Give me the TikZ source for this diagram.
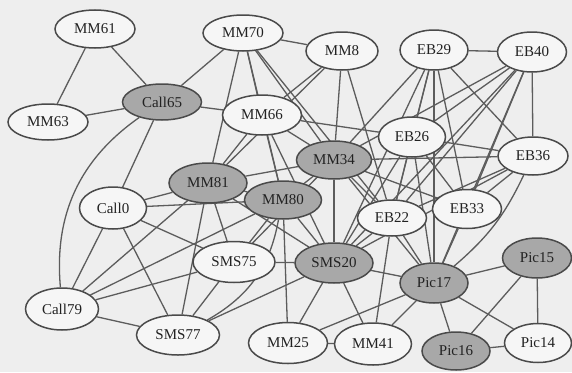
\documentclass[tikz,border=0pt]{standalone}
\usepackage{fontspec}
\setmainfont{Liberation Serif}
\usetikzlibrary{shapes.geometric,backgrounds}
\definecolor{bgc}{HTML}{EEEEEE}
\definecolor{wfill}{HTML}{F6F6F6}
\definecolor{gfill}{HTML}{A8A8A8}
\definecolor{bord}{HTML}{4A4A4A}
\definecolor{edgec}{HTML}{5C5C5C}
\definecolor{txtc}{HTML}{222222}
\tikzset{
  nd/.style={ellipse, draw=bord, line width=1.5pt, inner sep=0pt, text=txtc,
    font=\fontsize{15}{15}\selectfont},
  wn/.style={nd, fill=wfill},
  gn/.style={nd, fill=gfill},
  ed/.style={draw=edgec, line width=1.3pt},
  thick ed/.style={draw=edgec, line width=2.5pt}
}
\begin{document}
\begin{tikzpicture}[x=1pt,y=-1pt]
\useasboundingbox (0,0) rectangle (572,372);
% nodes
\node[wn, minimum width=80pt, minimum height=38pt] (MM61) at (95,29) {MM61};
\node[wn, minimum width=80pt, minimum height=36pt] (MM70) at (243,33) {MM70};
\node[wn, minimum width=72pt, minimum height=38pt] (MM8) at (342,51) {MM8};
\node[wn, minimum width=68pt, minimum height=40pt] (EB29) at (434,50) {EB29};
\node[wn, minimum width=69pt, minimum height=40pt] (EB40) at (532,52) {EB40};
\node[gn, minimum width=79pt, minimum height=36pt] (Call65) at (162,102) {Call65};
\node[wn, minimum width=80pt, minimum height=36pt] (MM63) at (48,122) {MM63};
\node[wn, minimum width=79pt, minimum height=40pt] (MM66) at (262,115) {MM66};
\node[wn, minimum width=67pt, minimum height=40pt] (EB26) at (412,137) {EB26};
\node[wn, minimum width=70pt, minimum height=38pt] (EB36) at (533,156) {EB36};
\node[gn, minimum width=75pt, minimum height=38pt] (MM34) at (334,160) {MM34};
\node[gn, minimum width=78pt, minimum height=40pt] (MM81) at (208,183) {MM81};
\node[gn, minimum width=77pt, minimum height=38pt] (MM80) at (283,200) {MM80};
\node[wn, minimum width=67pt, minimum height=42pt] (Call0) at (113,208) {Call0};
\node[wn, minimum width=69pt, minimum height=36pt] (EB22) at (392,218) {EB22};
\node[wn, minimum width=69pt, minimum height=39pt] (EB33) at (467,209) {EB33};
\node[wn, minimum width=82pt, minimum height=41pt] (SMS75) at (234,262) {SMS75};
\node[gn, minimum width=78pt, minimum height=40pt] (SMS20) at (334,263) {SMS20};
\node[gn, minimum width=68pt, minimum height=40pt] (Pic17) at (434,283) {Pic17};
\node[gn, minimum width=69pt, minimum height=40pt] (Pic15) at (537,258) {Pic15};
\node[wn, minimum width=73pt, minimum height=42pt] (Call79) at (62,309) {Call79};
\node[wn, minimum width=83pt, minimum height=40pt] (SMS77) at (178,335) {SMS77};
\node[wn, minimum width=79pt, minimum height=41pt] (MM25) at (288,343) {MM25};
\node[wn, minimum width=77pt, minimum height=42pt] (MM41) at (373,344) {MM41};
\node[gn, minimum width=68pt, minimum height=38pt] (Pic16) at (456,351) {Pic16};
\node[wn, minimum width=67pt, minimum height=39pt] (Pic14) at (538,343) {Pic14};
% edges
\begin{pgfonlayer}{background}
\fill[bgc] (0,0) rectangle (572,372);
\foreach \a/\b in {MM61/MM63, MM61/Call65, MM63/Call65, Call65/MM70, Call65/MM66, Call65/Call0,
  MM70/MM8, MM70/MM66, MM70/MM81, MM70/MM80, MM70/MM34, MM70/EB22,
  MM8/MM34, MM8/MM66, MM8/MM81, MM8/EB22,
  MM66/MM81, MM66/MM80, MM66/MM34, MM66/SMS20, MM66/EB26,
  MM81/MM34, MM81/MM80, MM81/SMS75, MM81/SMS77, MM81/SMS20,
  MM80/MM34, MM80/SMS75, MM80/SMS20, MM80/MM25,
  Call0/MM81, Call0/MM80, Call0/SMS75, Call0/SMS77, Call0/Call79,
  Call79/MM81, Call79/MM80, Call79/SMS75, Call79/SMS77,
  SMS77/SMS75, SMS77/SMS20, SMS75/SMS20, SMS75/MM34,
  MM34/SMS20, MM34/EB29, MM34/EB40, MM34/EB36, MM34/EB22, MM34/EB33, MM34/Pic17,
  EB29/EB40, EB29/EB26, EB29/EB36, EB29/EB22, EB29/SMS20, EB29/EB33,
  EB40/EB36, EB40/EB26, EB40/EB22, EB40/EB33, EB40/Pic17, EB40/SMS20,
  EB36/EB26, EB36/EB22, EB36/SMS20, EB36/EB33,
  EB26/EB22, EB26/SMS20, EB26/Pic17, EB26/EB33,
  EB22/SMS20, EB22/Pic17, EB22/MM41, EB33/Pic17,
  SMS20/Pic17, SMS20/MM25, SMS20/MM41,
  Pic17/Pic15, Pic17/Pic16, Pic17/Pic14, Pic17/MM41, Pic17/MM25,
  Pic15/Pic14, Pic15/Pic16, Pic16/Pic14, MM25/MM41}
  \draw[ed] (\a) -- (\b);
\draw[thick ed] (EB29) -- (Pic17);
\draw[ed] (Call65) to[bend right=30] (Call79);
\draw[ed] (EB36) to[bend left=12] (Pic17);
\draw[ed] (MM80) to[bend left=25] (SMS77);
\end{pgfonlayer}
\end{tikzpicture}
\end{document}
